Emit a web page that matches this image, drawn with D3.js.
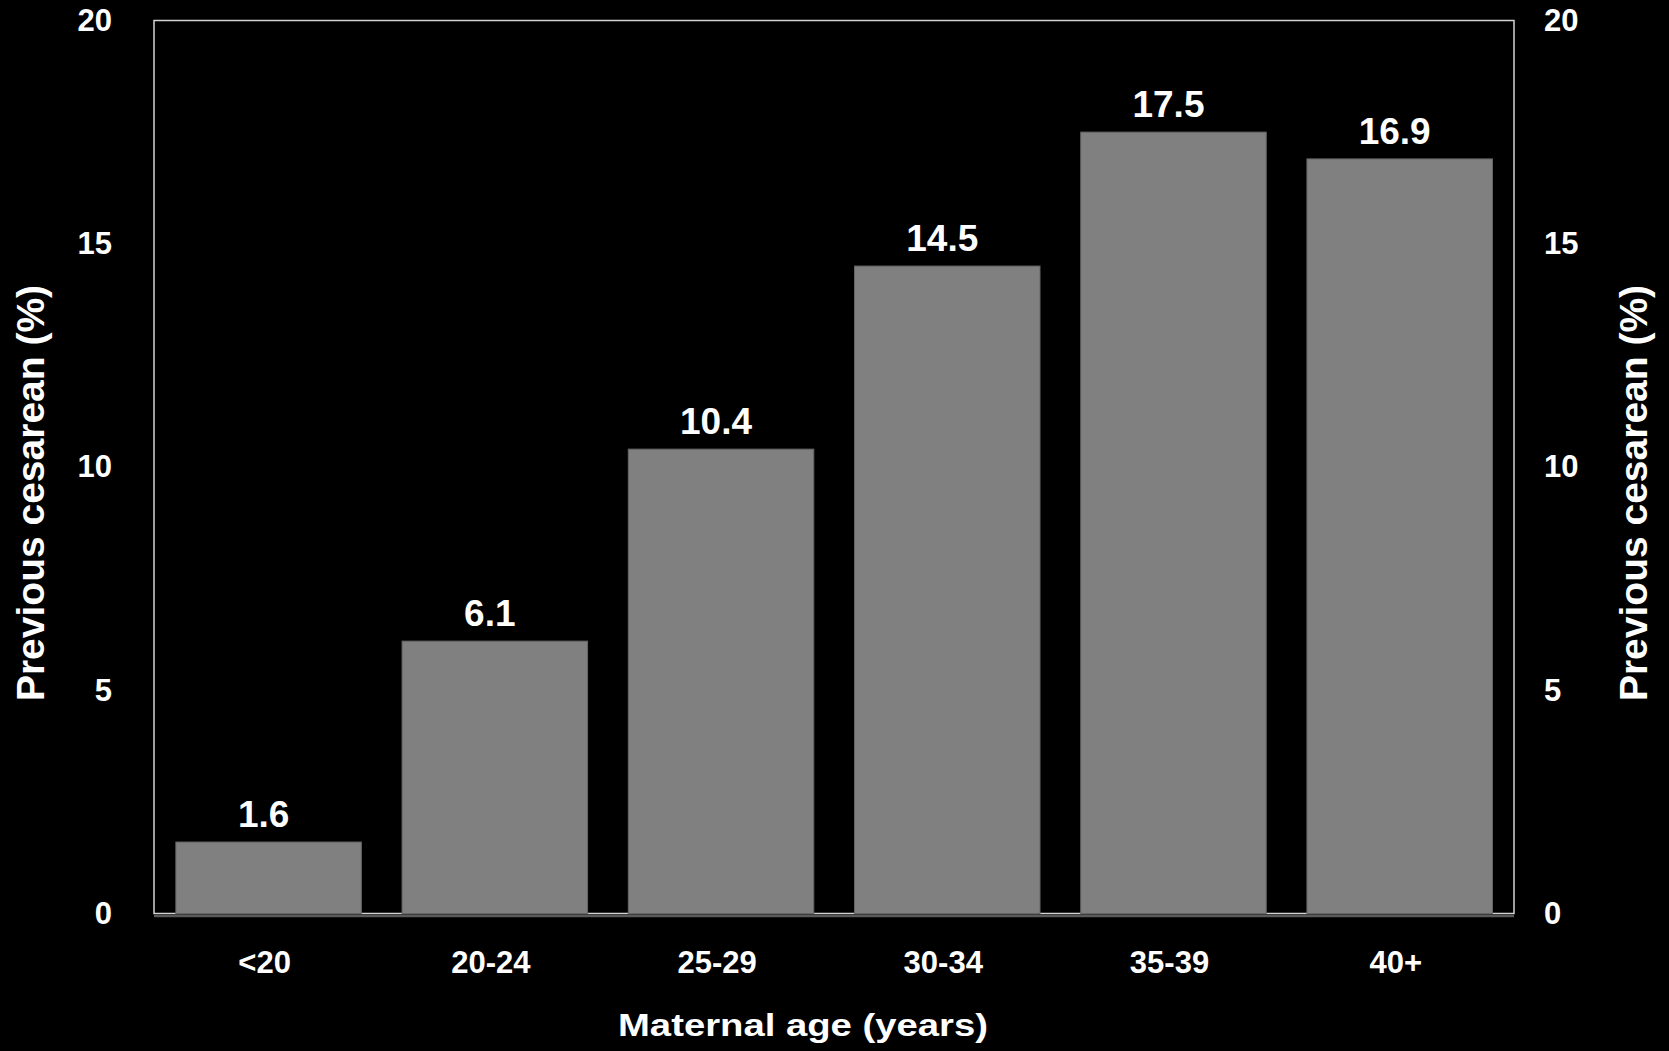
<!DOCTYPE html>
<html>
<head>
<meta charset="utf-8">
<script src="https://cdn.jsdelivr.net/npm/d3@7"></script>
<style>
  html, body { margin: 0; padding: 0; background: #000; }
  svg { display: block; }
  text { font-family: "Liberation Sans", Arial, sans-serif; font-weight: bold; fill: #fff; }
</style>
</head>
<body>
<script>
const categories = ["<20", "20-24", "25-29", "30-34", "35-39", "40+"];
const values = [1.6, 6.1, 10.4, 14.5, 17.5, 16.9];
const yTicks = [0, 5, 10, 15, 20];
const yTitle = "Previous cesarean (%)";
const xTitle = "Maternal age (years)";

const W = 1669, H = 1051;
const m = { left: 154, right: 1514, top: 20.5, bottom: 913.5 };

const svg = d3.select("body").append("svg").attr("width", W).attr("height", H);

const x = d3.scaleBand().domain(categories).range([m.left + 1.5, m.right - 1.2]).paddingInner(0.18).paddingOuter(0.09);
const y = d3.scaleLinear().domain([0, 20]).range([m.bottom, m.top]);

// frame
svg.append("rect")
  .attr("x", m.left).attr("y", m.top)
  .attr("width", m.right - m.left).attr("height", m.bottom - m.top)
  .attr("fill", "none").attr("stroke", "#d4d4d4").attr("stroke-width", 1.5);

// bars
svg.selectAll("rect.bar").data(values).join("rect")
  .attr("class", "bar")
  .attr("x", (d, i) => x(categories[i]))
  .attr("width", x.bandwidth())
  .attr("y", d => y(d))
  .attr("height", d => y(0) - y(d))
  .attr("fill", "#808080")
  .attr("stroke", "#666").attr("stroke-width", 1);

// bottom gray base line
svg.append("line")
  .attr("x1", m.left).attr("x2", m.right)
  .attr("y1", y(0) + 2.5).attr("y2", y(0) + 2.5)
  .attr("stroke", "#5a5a5a").attr("stroke-width", 2.5);

// data labels
svg.selectAll("text.val").data(values).join("text")
  .attr("class", "val")
  .attr("x", (d, i) => x(categories[i]) + x.bandwidth() / 2 - 5)
  .attr("y", d => y(d) - 15)
  .attr("text-anchor", "middle")
  .attr("font-size", 37)
  .text(d => d.toFixed(1));

// left axis
const gl = svg.append("g").attr("transform", `translate(${m.left},0)`)
  .call(d3.axisLeft(y).tickValues(yTicks).tickSize(0).tickPadding(42));
gl.select(".domain").remove();
gl.selectAll("text").attr("font-size", 31).attr("fill", "#fff")
  .attr("font-family", '"Liberation Sans", Arial, sans-serif').attr("font-weight", "bold");

// right axis
const gr = svg.append("g").attr("transform", `translate(${m.right},0)`)
  .call(d3.axisRight(y).tickValues(yTicks).tickSize(0).tickPadding(30));
gr.select(".domain").remove();
gr.selectAll("text").attr("font-size", 31).attr("fill", "#fff")
  .attr("font-family", '"Liberation Sans", Arial, sans-serif').attr("font-weight", "bold");

// bottom axis
const gb = svg.append("g").attr("transform", `translate(0,${m.bottom})`)
  .call(d3.axisBottom(x).tickSize(0).tickPadding(37));
gb.select(".domain").remove();
gb.selectAll("text").attr("font-size", 31).attr("fill", "#fff")
  .attr("font-family", '"Liberation Sans", Arial, sans-serif').attr("font-weight", "bold")
  .attr("dx", -4);

// axis titles
svg.append("text")
  .attr("transform", "translate(44,493) rotate(-90)")
  .attr("text-anchor", "middle").attr("font-size", 39)
  .text(yTitle);
svg.append("text")
  .attr("transform", "translate(1647,493) rotate(-90)")
  .attr("text-anchor", "middle").attr("font-size", 39)
  .text(yTitle);
svg.append("text")
  .attr("x", 803).attr("y", 1036)
  .attr("text-anchor", "middle").attr("font-size", 31)
  .attr("textLength", 370).attr("lengthAdjust", "spacingAndGlyphs")
  .text(xTitle);
</script>
</body>
</html>
